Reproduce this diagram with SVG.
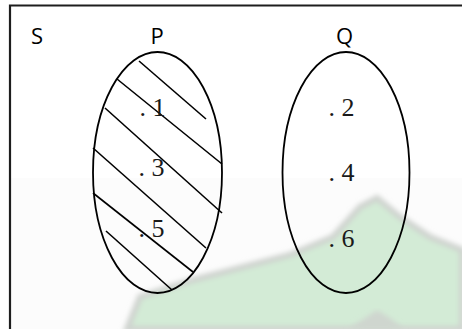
<svg xmlns="http://www.w3.org/2000/svg" width="462" height="329" viewBox="0 0 462 329">
  <defs>
    <filter id="blur" x="-10%" y="-10%" width="120%" height="120%">
      <feGaussianBlur stdDeviation="2.5"/>
    </filter>
  </defs>
  <style>
    .set { fill: none; stroke: #000; stroke-width: 1.8; }
    .hatch { stroke: #000; stroke-width: 1.6; fill: none; }
    .lbl { font-family: "Open Sans", "Liberation Sans", sans-serif; font-size: 22px; fill: #000; }
    .num { font-family: "Liberation Serif", "Times New Roman", serif; font-size: 26px; fill: #1a1a1a; }
    .frame { stroke: #1e1e1e; stroke-width: 2.2; fill: none; }
  </style>
  <rect x="0" y="0" width="462" height="329" fill="#fff"/>
  <g id="watermark">
    <rect x="11" y="178" width="451" height="151" fill="#fcfcfc"/>
    <polygon points="127,329 140,297 193,280 290,255 333,237 360,207 377,198 400,217 430,237 462,250 462,329" fill="#d3ebd6" stroke="#cfd3cf" stroke-width="6" filter="url(#blur)"/>
    <polygon points="348,329 365,318 377,310 390,318 404,329" fill="#cfd6cf" filter="url(#blur)"/>
  </g>
  <g id="S">
    <path class="frame" d="M10,329 L10,5.5 L462,5.5"/>
    <text class="lbl" x="31" y="44">S</text>
  </g>
  <g id="P">
    <text class="lbl" x="150.5" y="44">P</text>
    <g class="hatch">
      <line x1="139" y1="61" x2="206" y2="119"/>
      <line x1="117" y1="79" x2="222" y2="164"/>
      <line x1="105" y1="108" x2="222" y2="213"/>
      <line x1="93" y1="148" x2="206" y2="248"/>
      <line x1="93" y1="193" x2="193" y2="272"/>
      <line x1="106" y1="231" x2="172" y2="290"/>
    </g>
    <ellipse class="set" cx="157.5" cy="172.5" rx="64.5" ry="120.5"/>
    <text class="num" x="139.5" y="116">. 1</text>
    <text class="num" x="138.5" y="176">. 3</text>
    <text class="num" x="138.5" y="237">. 5</text>
  </g>
  <g id="Q">
    <text class="lbl" x="336" y="44">Q</text>
    <ellipse class="set" cx="346" cy="172.5" rx="63.5" ry="120.5"/>
    <text class="num" x="328.5" y="116">. 2</text>
    <text class="num" x="328.5" y="181">. 4</text>
    <text class="num" x="328.5" y="247">. 6</text>
  </g>
  <g id="connectors"/>
</svg>
